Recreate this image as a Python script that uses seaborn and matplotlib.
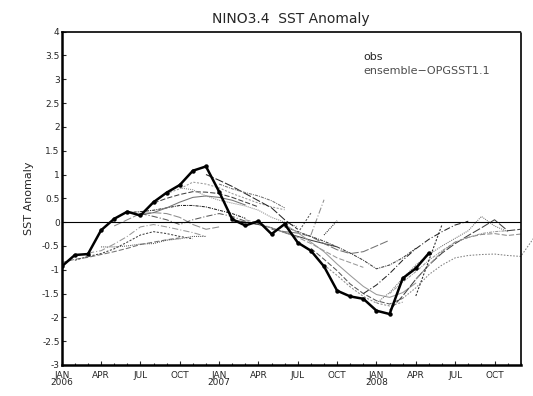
import matplotlib
matplotlib.use("Agg")
import matplotlib.pyplot as plt
import seaborn as sns
import numpy as np
import pandas as pd

# ---------------- data ----------------
# months since Jan 2006
obs_months = list(range(0, 29))
obs_values = [-0.93, -0.69, -0.67, -0.17, 0.07, 0.22, 0.14, 0.42, 0.62, 0.78,
              1.08, 1.17, 0.64, 0.06, -0.07, 0.02, -0.25, -0.04, -0.43, -0.60,
              -0.93, -1.44, -1.56, -1.61, -1.86, -1.93, -1.18, -0.97, -0.65]

# ensemble forecasts: (start month, values)
fc_starts = [0, 1, 2, 3, 4, 5, 6, 7, 8, 6, 9, 11, 12,
             13, 14, 18, 19, 20, 16, 17, 17, 19, 20,
             23, 24, 25, 25, 26, 27, 27]
fc_values = [
    [-0.85, -0.78, -0.74, -0.68, -0.62, -0.55, -0.47, -0.42, -0.37, -0.33],
    [-0.80, -0.72, -0.66, -0.56, -0.42, -0.27, -0.20, -0.24, -0.30, -0.35],
    [-0.65, -0.60, -0.46, -0.30, -0.10, -0.05, -0.10, -0.16, -0.22, -0.30],
    [-0.52, -0.52, -0.50, -0.46, -0.45, -0.38, -0.35, -0.30, -0.30],
    [-0.08, 0.05, 0.18, 0.20, 0.18, 0.10, -0.05, -0.15, -0.10],
    [0.20, 0.22, 0.25, 0.30, 0.35, 0.35, 0.32, 0.25, 0.18, 0.08],
    [0.15, 0.20, 0.30, 0.42, 0.52, 0.55, 0.52, 0.46, 0.36],
    [0.40, 0.50, 0.58, 0.64, 0.63, 0.60, 0.52, 0.42, 0.32],
    [0.60, 0.70, 0.84, 0.80, 0.72, 0.60, 0.50, 0.40, 0.32, 0.26],
    [0.18, 0.12, 0.05, -0.05, 0.05, 0.12, 0.18, 0.12, 0.02, -0.05],
    [0.72, 0.68, 0.55, 0.46, 0.40, 0.34, 0.25, 0.10, 0.0, -0.10],
    [1.00, 0.88, 0.75, 0.60, 0.45, 0.30, 0.05, -0.15],
    [0.80, 0.70, 0.62, 0.55, 0.45, 0.30],
    [0.05, 0.0, -0.05, -0.12, -0.22, -0.30, -0.38, -0.45, -0.52],
    [0.05, -0.02, -0.12, -0.22, -0.32, -0.45, -0.60, -0.75, -0.85, -0.95],
    [-0.23, 0.19],
    [-0.27, 0.47],
    [-0.27, 0.03],
    [-0.15, -0.20, -0.23, -0.30, -0.45, -0.58, -0.66, -0.62, -0.50, -0.38],
    [-0.10, -0.20, -0.30, -0.40, -0.52, -0.65, -0.80, -0.98, -0.90, -0.75, -0.55],
    [-0.05, -0.22, -0.42, -0.62, -0.88, -1.12, -1.35, -1.52, -1.58, -1.48, -1.28],
    [-0.55, -0.78, -1.02, -1.30, -1.50, -1.65, -1.72, -1.60],
    [-0.90, -1.12, -1.36, -1.56, -1.70, -1.76, -1.68],
    [-1.50, -1.32, -1.08, -0.80, -0.56, -0.36, -0.20, -0.06, 0.02],
    [-1.70, -1.48, -1.18, -0.90, -0.68, -0.50, -0.34, -0.18, 0.12, -0.08, -0.20],
    [-1.85, -1.55, -1.20, -0.90, -0.65, -0.45, -0.28, -0.12, 0.05, -0.18, -0.15],
    [-1.50, -1.26, -1.04, -0.80, -0.60, -0.42, -0.32, -0.24, -0.20, -0.18],
    [-1.60, -1.38, -1.10, -0.90, -0.75, -0.70, -0.68, -0.67, -0.70, -0.72, -0.33],
    [-1.20, -0.90, -0.62, -0.42, -0.32, -0.26, -0.24, -0.28, -0.25],
    [-1.55, -0.80, -0.05],
]

ytick_values = [4, 3.5, 3, 2.5, 2, 1.5, 1, 0.5, 0, -0.5, -1, -1.5, -2, -2.5, -3]
xtick_months = [0, 3, 6, 9, 12, 15, 18, 21, 24, 27, 30, 33]
xtick_labels = ["JAN\n2006", "APR", "JUL", "OCT", "JAN\n2007", "APR", "JUL",
                "OCT", "JAN\n2008", "APR", "JUL", "OCT"]

# ---------------- plot ----------------
sns.set_style("white")
plt.rcParams['font.family'] = ['DejaVu Sans']

fig = plt.figure(figsize=(5.33, 3.96), dpi=100)
ax = fig.add_axes([0.1158, 0.0783, 0.977 - 0.1158, 0.92 - 0.0783])

colors = ['0.45', '0.25', '0.6', '0.35', '0.55', '0.15']
styles = [(0, (5, 2)), (0, (2, 1.5)), (0, (6, 2, 1, 2)), (0, (1, 1)),
          (0, (8, 2)), (0, (3, 1, 1, 1)), 'solid']

for i, (s, vals) in enumerate(zip(fc_starts, fc_values)):
    df = pd.DataFrame({"month": np.arange(s, s + len(vals)), "anom": vals})
    overflow = (i == 27)
    sns.lineplot(data=df, x="month", y="anom", ax=ax,
                 color='0.5' if overflow else colors[i % len(colors)],
                 linestyle=(0, (1.5, 1.5)) if overflow else styles[i % len(styles)],
                 linewidth=0.75, clip_on=not overflow)

ax.axhline(0, color='black', linewidth=0.8)

obs_df = pd.DataFrame({"month": obs_months, "anom": obs_values})
sns.lineplot(data=obs_df, x="month", y="anom", ax=ax, color='black',
             linewidth=1.8, marker='o', markersize=3.2, markeredgewidth=0)

ax.set_xlim(0, 35)
ax.set_ylim(-3, 4)
ax.set_yticks(ytick_values)
ax.set_yticklabels(["%g" % v for v in ytick_values], fontsize=6.5)
ax.set_xticks(xtick_months)
ax.set_xticklabels(xtick_labels, fontsize=6.5, linespacing=0.85)
ax.set_xticks(range(0, 36), minor=True)
ax.tick_params(axis='both', which='both', direction='in', length=3, width=0.8,
               left=True, bottom=True)
ax.tick_params(axis='y', pad=1.5)
ax.tick_params(axis='x', which='major', pad=4)
ax.tick_params(axis='x', which='minor', length=1.5)
ax.set_xlabel("")
ax.set_ylabel("SST Anomaly", fontsize=8, labelpad=6)

for side in ['left', 'bottom']:
    ax.spines[side].set_linewidth(1.8)
    ax.spines[side].set_color('black')
for side in ['top', 'right']:
    ax.spines[side].set_linewidth(1.2)
    ax.spines[side].set_color('black')
    ax.spines[side].set_linestyle((0, (1, 1)))

ax.set_title("NINO3.4  SST Anomaly", fontsize=10, pad=6)

ax.text(23.0, 3.47, "obs", fontsize=8, color='0.15', va='center', ha='left')
ax.text(23.0, 3.17, "ensemble\u2212OPGSST1.1", fontsize=8, color='0.3',
        va='center', ha='left', clip_on=False)

fig.savefig("out.png", dpi=100)
